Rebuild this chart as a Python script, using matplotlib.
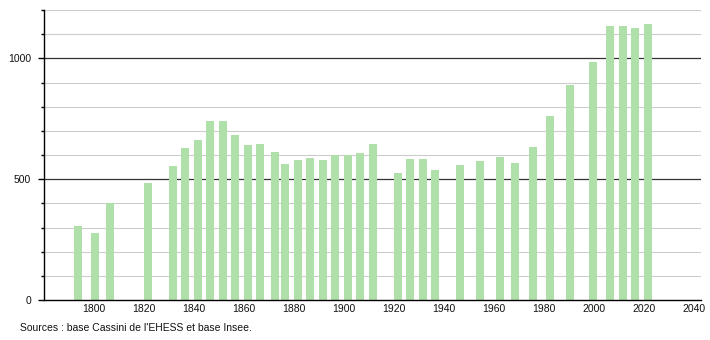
import matplotlib
matplotlib.use("Agg")
import matplotlib.pyplot as plt

years = [1793, 1800, 1806, 1821, 1831, 1836, 1841, 1846, 1851, 1856, 1861, 1866,
         1872, 1876, 1881, 1886, 1891, 1896, 1901, 1906, 1911, 1921, 1926, 1931,
         1936, 1946, 1954, 1962, 1968, 1975, 1982, 1990, 1999, 2006, 2011, 2016, 2021]
population = [307, 278, 403, 483, 553, 627, 661, 740, 740, 684, 640, 644,
              614, 561, 580, 589, 578, 601, 601, 607, 644, 524, 584, 584,
              540, 557, 576, 590, 568, 633, 760, 889, 985, 1134, 1134, 1127, 1143]
x_ticks = [1800, 1820, 1840, 1860, 1880, 1900, 1920, 1940, 1960, 1980, 2000, 2020, 2040]
y_ticks = [0, 500, 1000]
source_text = "Sources : base Cassini de l'EHESS et base Insee."

plt.rcParams['font.family'] = ['Liberation Sans', 'DejaVu Sans']

fig = plt.figure(figsize=(7.1, 3.4), dpi=100)
ax = fig.add_axes([44/710, 1-300/340, (700.7-44)/710, 290/340])

ax.set_xlim(1780, 2042.7)
ax.set_ylim(0, 1200)

# grid lines
for v in range(100, 1201, 100):
    if v % 500 == 0:
        ax.axhline(v, color='#333333', lw=0.9, zorder=1)
    else:
        ax.axhline(v, color='#cccccc', lw=0.8, zorder=1)

ax.bar([y + 0.6 for y in years], population, width=3.2, color='#b0e0aa', zorder=2)

for s in ['top', 'right']:
    ax.spines[s].set_visible(False)
ax.spines['left'].set_color('black')
ax.spines['bottom'].set_color('black')
ax.spines['left'].set_linewidth(1.0)
ax.spines['bottom'].set_linewidth(1.0)

ax.set_yticks(y_ticks)
ax.set_yticklabels([str(v) for v in y_ticks], fontsize=7.5, color='#111111')
ax.set_yticks(range(0, 1201, 100), minor=True)
ax.tick_params(axis='y', which='major', length=4.3, width=1, pad=5)
ax.tick_params(axis='y', which='minor', length=2.2, width=1)

ax.set_xticks(x_ticks)
ax.set_xticklabels([str(v) for v in x_ticks], fontsize=7.5, color='#111111')
ax.tick_params(axis='x', which='major', length=0, pad=3)

fig.text(20/710, 1-328/340, source_text, fontsize=7.5, color='#111111', va='center', ha='left')

fig.savefig('out.png', dpi=100)
